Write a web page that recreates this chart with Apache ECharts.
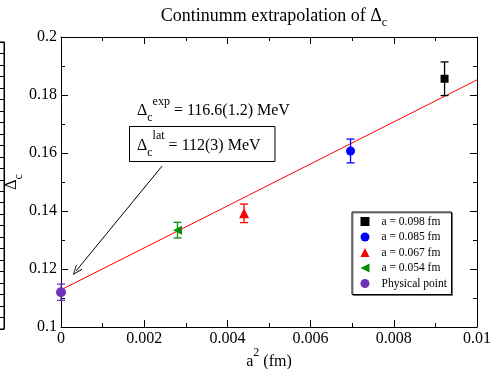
<!DOCTYPE html>
<html><head><meta charset="utf-8">
<script src="https://cdn.jsdelivr.net/npm/echarts@6/dist/echarts.min.js"></script>
<style>html,body{margin:0;padding:0;background:#fff}#c{width:493px;height:369px}</style>
</head><body><div id="c"></div>
<script>
// ---- data ----
const groups = ['a = 0.098 fm', 'a = 0.085 fm', 'a = 0.067 fm', 'a = 0.054 fm', 'Physical point'];
const a2 = [0.00922, 0.00696, 0.0044, 0.0028, 0.0];
const delta = [0.1856, 0.1607, 0.1392, 0.1334, 0.1120];
const deltaErr = [0.0058, 0.0041, 0.0032, 0.0027, 0.0028];
const fitX = [0.0, 0.01];
const fitY = [0.1128, 0.1852];
const arrowFrom = [0.00243, 0.1555];
const arrowTo = [0.00036, 0.1193];
const xTicks = [0, 0.002, 0.004, 0.006, 0.008, 0.01];
const yTicks = [0.1, 0.12, 0.14, 0.16, 0.18, 0.2];

// ---- styles ----
const F = 'Liberation Serif';
const colors = ['#000000', '#0000ff', '#ff0000', '#0a8a0a', '#7030b8'];
const leftTri = 'path://M10,0 L10,10 L0,5 Z';
const symbols = ['rect', 'circle', 'triangle', leftTri, 'circle'];
const sizes = [8, 9, 10, 9, 10];

const chart = echarts.init(document.getElementById('c'), null, {renderer: 'canvas'});

const series = [];
series.push({
  type: 'line', name: 'fit', xAxisIndex: 0, yAxisIndex: 0,
  data: fitX.map((x, i) => [x, fitY[i]]),
  showSymbol: false, symbol: 'none', silent: true,
  lineStyle: {color: '#ff0000', width: 1}, z: 2,
  markLine: {
    silent: true, animation: false,
    symbol: ['none', 'path://M5,0 L10,10 L8.8,10 L5,2.2 L1.2,10 L0,10 Z'],
    symbolSize: [8, 10],
    label: {show: false},
    lineStyle: {color: '#000', width: 1, type: 'solid'},
    emphasis: {disabled: true},
    data: [[{coord: arrowFrom}, {coord: arrowTo}]]
  }
});
groups.forEach((g, i) => {
  const col = colors[i];
  series.push({
    type: 'custom', name: g + ' err', xAxisIndex: 0, yAxisIndex: 0, silent: true, z: 3,
    data: [[a2[i], delta[i] - deltaErr[i], delta[i] + deltaErr[i]]],
    renderItem: function (params, api) {
      const x = api.value(0), lo = api.value(1), hi = api.value(2);
      const p1 = api.coord([x, lo]), p2 = api.coord([x, hi]);
      const w = 4;
      const st = {stroke: col, lineWidth: 1.3};
      return {type: 'group', children: [
        {type: 'line', shape: {x1: p1[0], y1: p1[1], x2: p2[0], y2: p2[1]}, style: st},
        {type: 'line', shape: {x1: p1[0] - w, y1: p1[1], x2: p1[0] + w, y2: p1[1]}, style: st},
        {type: 'line', shape: {x1: p2[0] - w, y1: p2[1], x2: p2[0] + w, y2: p2[1]}, style: st}
      ]};
    }
  });
  series.push({
    type: 'scatter', name: g, xAxisIndex: 0, yAxisIndex: 0, z: 4,
    data: [[a2[i], delta[i]]],
    symbol: symbols[i], symbolSize: sizes[i],
    itemStyle: {color: col, opacity: 1}
  });
});
// empty series so the cropped neighbouring frame's axis is laid out
series.push({type: 'scatter', name: 'neighbour', xAxisIndex: 2, yAxisIndex: 2, data: [], silent: true});

const rich = {
  b: {fontFamily: F, fontSize: 16, color: '#000', fontWeight: 'normal'},
  sub: {fontFamily: F, fontSize: 12, color: '#000', fontWeight: 'normal', padding: [14, 0, 0, 0]},
  sup: {fontFamily: F, fontSize: 12, color: '#000', fontWeight: 'normal', padding: [0, 0, 18, 0]},
  sup2: {fontFamily: F, fontSize: 12, color: '#000', fontWeight: 'normal', padding: [0, 0, 20, 0]}
};

const axisCommon = {
  type: 'value', min: 0, max: 0.01, interval: 0.002,
  axisLine: {show: true, onZero: false, lineStyle: {color: '#000', width: 1}},
  axisTick: {show: true, inside: true, length: 7, lineStyle: {color: '#000', width: 1}},
  minorTick: {show: true, splitNumber: 2, length: 4, lineStyle: {color: '#000', width: 1}},
  splitLine: {show: false}, minorSplitLine: {show: false}
};
const yCommon = Object.assign({}, axisCommon, {min: 0.1, max: 0.2, interval: 0.02});

const option = {
  animation: false,
  backgroundColor: '#fff',
  title: {
    text: '{b|Continumm extrapolation of Δ}{sub|c}',
    left: 269, textAlign: 'center', top: -2,
    textStyle: {fontWeight: 'normal', rich: {
      b: {fontFamily: F, fontSize: 18, color: '#000', fontWeight: 'normal'},
      sub: {fontFamily: F, fontSize: 12, color: '#000', fontWeight: 'normal', padding: [14, 0, 0, 0]}
    }}
  },
  grid: [
    {left: 61, top: 37, width: 416, height: 290, show: false, containLabel: false, outerBoundsMode: 'none'},
    {left: -100, top: 42, width: 104, height: 287, show: true, borderColor: '#000', borderWidth: 1,
      backgroundColor: 'transparent', containLabel: false, outerBoundsMode: 'none'}
  ],
  xAxis: [
    Object.assign({}, axisCommon, {
      gridIndex: 0, position: 'bottom',
      axisLabel: {show: true, margin: 4, fontFamily: F, fontSize: 16, color: '#000',
        formatter: v => { const t = xTicks.find(x => Math.abs(x - v) < 1e-9); return t === undefined ? '' : String(t); }},
      name: '{b|a}{sup|2}{b| (fm)}', nameLocation: 'middle', nameGap: 20, nameMoveOverlap: false,
      nameTextStyle: {rich: rich}
    }),
    Object.assign({}, axisCommon, {gridIndex: 0, position: 'top', axisLabel: {show: false}}),
    {type: 'value', gridIndex: 1, show: false, min: 0, max: 1}
  ],
  yAxis: [
    Object.assign({}, yCommon, {
      gridIndex: 0, position: 'left',
      axisLabel: {show: true, margin: 4, fontFamily: F, fontSize: 16, color: '#000',
        formatter: v => { const t = yTicks.find(y => Math.abs(y - v) < 1e-9); return t === undefined ? '' : String(t); }},
      name: '{b|Δ}{sub|c}', nameLocation: 'middle', nameGap: 36, nameRotate: 90, nameMoveOverlap: false,
      nameTextStyle: {rich: rich}
    }),
    Object.assign({}, yCommon, {gridIndex: 0, position: 'right', axisLabel: {show: false}}),
    {type: 'value', gridIndex: 1, position: 'right', show: true, min: 0, max: 25, interval: 1,
      axisLine: {show: true, onZero: false, lineStyle: {color: '#000', width: 1}},
      axisTick: {show: true, inside: true, length: 4, lineStyle: {color: '#000', width: 1}},
      axisLabel: {show: false}, splitLine: {show: false}}
  ],
  legend: {
    orient: 'vertical', left: 352, top: 212,
    data: groups.map((g, i) => ({name: g, icon: symbols[i]})),
    itemWidth: 9, itemHeight: 9, itemGap: 3.5,
    padding: [3.5, 4.5, 5, 8.5],
    borderColor: '#000', borderWidth: 1, backgroundColor: '#fff',
    shadowColor: 'rgba(0,0,0,0.45)', shadowOffsetX: 1, shadowOffsetY: 1, shadowBlur: 0,
    textStyle: {fontFamily: F, fontSize: 11.5, color: '#000', padding: [0, 0, 0, 7]},
    selectedMode: false
  },
  graphic: [
    {type: 'text', left: 137, top: 96, z: 10, silent: true,
      style: {text: '{b|Δ}{sub|c}{sup|exp}{b| = 116.6(1.2) MeV}', rich: rich}},
    {type: 'rect', shape: {x: 129.5, y: 126.5, width: 145.5, height: 35}, z: 10, silent: true,
      style: {fill: 'transparent', stroke: '#000', lineWidth: 1}},
    {type: 'text', left: 137, top: 130, z: 10, silent: true,
      style: {text: '{b|Δ}{sub|c}{sup2|lat}{b| = 112(3) MeV}', rich: rich}}
  ],
  series: series
};
chart.setOption(option);
</script>
</body></html>
